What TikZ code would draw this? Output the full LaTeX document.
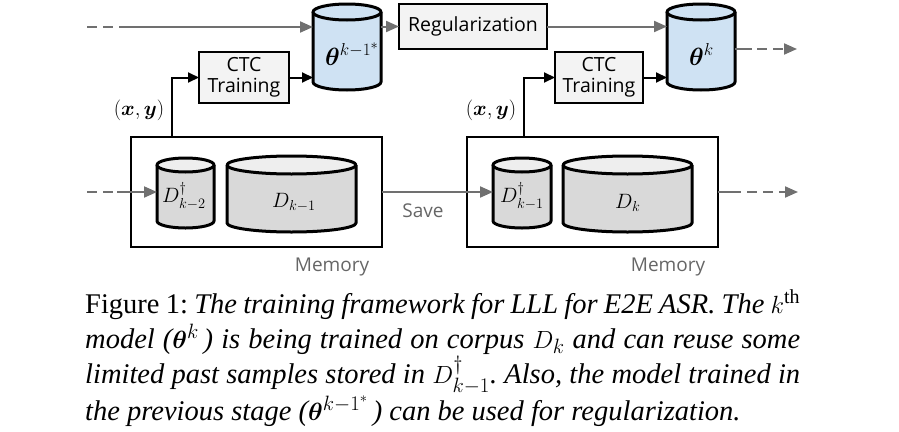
\documentclass[tikz,border=0pt]{standalone}
\usepackage{amsmath}
\usepackage{bm}
\usepackage{fontspec}
\setmainfont{Liberation Serif}
\newfontfamily\osans{Open Sans}
\usetikzlibrary{arrows.meta}
\definecolor{linegray}{HTML}{707070}
\definecolor{boxfill}{HTML}{F3F3F3}
\definecolor{cylblue}{HTML}{CFE2F3}
\definecolor{cylgray}{HTML}{D9D9D9}
\definecolor{cyltop}{HTML}{EEEEEE}
\definecolor{memtext}{HTML}{666666}
\newcommand\drawcyl[7]{%
  \pgfmathsetmacro\cylrx{(#2-#1)/2}%
  \pgfmathsetmacro\cylcx{(#1+#2)/2}%
  \filldraw[cylline, fill=#6] (#1,#3+#5) -- (#1,#4-#5)
    arc[start angle=180, end angle=360, x radius=\cylrx pt, y radius=#5 pt] -- (#2,#3+#5);
  \filldraw[cylline, fill=#7] (\cylcx,#3+#5) ellipse[x radius=\cylrx pt, y radius=#5 pt];
}
\tikzset{
  cylline/.style={draw=black, line width=3pt, line join=round},
  procbox/.style={draw=black, line width=2pt, fill=boxfill, inner sep=0pt, outer sep=0pt,
    font=\osans\fontsize{19.5}{21}\selectfont, align=center},
  membox/.style={draw=black, line width=2pt, inner sep=0pt, outer sep=0pt},
  anch/.style={inner sep=0pt, outer sep=0pt},
  gline/.style={draw=linegray, line width=2pt},
  garrow/.style={gline, -{Triangle[length=13pt,width=11pt]}},
  gdash/.style={gline, dash pattern=on 10pt off 6pt},
  gdasharrow/.style={gdash, -{Triangle[length=13pt,width=11pt]}},
  barrow/.style={draw=black, line width=2pt, -{Triangle[length=11pt,width=10pt]}},
  graylbl/.style={text=memtext, font=\osans\fontsize{19}{21}\selectfont, inner sep=0pt},
  mathlbl/.style={inner sep=0pt, font=\fontsize{20.5}{22}\selectfont},
  thetalbl/.style={inner sep=0pt, font=\fontsize{27}{29}\selectfont},
  capline/.style={anchor=base west, inner sep=0pt, font=\fontsize{28.5}{35}\selectfont}
}
\begin{document}
\begin{tikzpicture}[x=1pt, y=-1pt]
\useasboundingbox (0,0) rectangle (899,431);

% cylinders (graphics)
\drawcyl{313}{381}{4}{90}{8}{cylblue}{cylblue}
\drawcyl{667}{735}{4}{90}{8}{cylblue}{cylblue}
\drawcyl{157}{214}{158}{228}{7}{cylgray}{cyltop}
\drawcyl{227}{356}{156}{232}{9}{cylgray}{cyltop}
\drawcyl{493}{551}{158}{228}{7}{cylgray}{cyltop}
\drawcyl{563}{692}{156}{232}{9}{cylgray}{cyltop}

% anchor nodes for the cylinders
\node[anch, minimum width=68pt, minimum height=86pt] (thA) at (347,47) {};
\node[anch, minimum width=68pt, minimum height=86pt] (thB) at (701,49) {};
\node[anch, minimum width=57pt, minimum height=70pt] (dA) at (185.5,193) {};
\node[anch, minimum width=129pt, minimum height=76pt] (dB) at (291.5,194) {};
\node[anch, minimum width=58pt, minimum height=70pt] (dC) at (522,193) {};
\node[anch, minimum width=129pt, minimum height=76pt] (dD) at (627.5,194) {};

% cylinder labels
\node[thetalbl, anchor=base west] (thAl) at (325,65) {$\bm{\theta}^{{k-1}^{*}}$};
\node[thetalbl, anchor=base west] (thBl) at (689,65) {$\bm{\theta}^{k}$};
\node[mathlbl, anchor=base west] (dAl) at (162,202) {$D^{\dagger}_{k-2}$};
\node[mathlbl, anchor=base west] (dBl) at (272,207) {$D_{k-1}$};
\node[mathlbl, anchor=base west] (dCl) at (500,202) {$D^{\dagger}_{k-1}$};
\node[mathlbl, anchor=base west] (dDl) at (615,208) {$D_{k}$};

% boxes
\node[procbox, minimum width=148pt, minimum height=45pt] (reg) at (473,26.5) {Regularization};
\node[procbox, minimum width=90pt, minimum height=51pt] (ctcA) at (244,77.5) {CTC\\Training};
\node[procbox, minimum width=88pt, minimum height=51pt] (ctcB) at (599,77.5) {CTC\\Training};
\node[membox, minimum width=251pt, minimum height=110pt] (memA) at (256.5,192) {};
\node[membox, minimum width=251pt, minimum height=110pt] (memB) at (592.5,192) {};

% labels
\node[graylbl] (memAl) at (332,267) {Memory};
\node[graylbl] (memBl) at (668,267) {Memory};
\node[graylbl] (save) at (423,211) {Save};
\node[mathlbl] (xyA) at (139,110) {$(\bm{x},\bm{y})$};
\node[mathlbl] (xyB) at (491,110) {$(\bm{x},\bm{y})$};

% free ends
\coordinate (topin) at (87,27);
\coordinate (topsolid) at (119,27);
\coordinate (botin) at (87,192);
\coordinate (botsolid) at (117,192);
\coordinate (topout) at (797,49);
\coordinate (topdash) at (757,49);
\coordinate (botout) at (798,192);
\coordinate (botdash) at (747,192);

% top row
\draw[gdash] (topin) -- (topsolid);
\draw[garrow] (topsolid) -- (thA.west |- topin);
\draw[garrow] (thA.east |- reg.west) -- (reg.west);
\draw[garrow] (reg.east) -- (thB.west |- reg.east);
\draw[gline] (thB.east) -- ([xshift=17pt]thB.east);
\draw[gdasharrow] (topdash) -- (topout);

% CTC
\draw[barrow] (ctcA.east) -- (thA.west |- ctcA.east);
\draw[barrow] (ctcB.east) -- (thB.west |- ctcB.east);
\draw[barrow] ([xshift=41pt]memA.north west) |- (ctcA.west);
\draw[barrow] ([xshift=57pt]memB.north west) |- (ctcB.west);

% bottom row
\draw[gdash] (botin) -- (botsolid);
\draw[garrow] (botsolid) -- (dA.west |- botin);
\draw[garrow] (memA.east) -- (dC.west |- memA.east);
\draw[gline] (memB.east) -- ([xshift=23pt]memB.east);
\draw[gdasharrow] (botdash) -- (botout);

% caption
\frenchspacing
\node[capline] (cap1) at (85,313) {\hbox to 715pt{Figure 1: \itshape The training framework for LLL for E2E ASR. The $k^{\mathrm{th}}$}};
\node[capline] (cap2) at (85,348) {\hbox to 715pt{\itshape model ($\bm{\theta}^k$\,) is being trained on corpus $\smash{D_k}$ and can reuse some}};
\node[capline] (cap3) at (85,383) {\hbox to 715pt{\itshape limited past samples stored in $\smash{D^{\dagger}_{k-1}}$. Also, the model trained in}};
\node[capline] (cap4) at (85,420) {\itshape the previous stage ($\smash{\bm{\theta}^{{k-1}^{*}}}$\,) can be used for regularization.};
\end{tikzpicture}
\end{document}
